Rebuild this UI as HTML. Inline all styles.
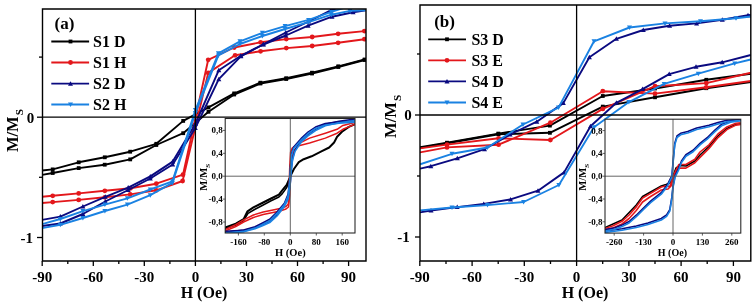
<!DOCTYPE html><html><head><meta charset="utf-8"><style>html,body{margin:0;padding:0;background:#fff;width:756px;height:306px;overflow:hidden}svg{display:block;will-change:transform;filter:blur(0.3px)}</style></head><body><svg width="756" height="306" viewBox="0 0 756 306"><defs><clipPath id="clipA"><rect x="42" y="9" width="324" height="252"/></clipPath><clipPath id="clipB"><rect x="420" y="5" width="331" height="256"/></clipPath><clipPath id="clipIA"><rect x="225.2" y="118.5" width="129.8" height="114.5"/></clipPath><clipPath id="clipIB"><rect x="605" y="119.2" width="135.8" height="114"/></clipPath></defs><rect width="756" height="306" fill="#fff"/><g clip-path="url(#clipA)"><polyline points="42.0,170.5 52.7,169.4 78.7,162.3 104.8,157.3 130.2,151.7 156.3,143.8 183.2,120.9 208.5,107.4 234.2,93.4 260.4,82.7 286.2,78.2 312.0,72.7 338.3,66.3 364.6,59.5 366.0,59.3" fill="none" stroke="#000000" stroke-width="1.9" stroke-linejoin="round"/><rect x="50.8" y="167.5" width="3.8" height="3.8" fill="#000000"/><rect x="76.8" y="160.4" width="3.8" height="3.8" fill="#000000"/><rect x="102.9" y="155.4" width="3.8" height="3.8" fill="#000000"/><rect x="128.3" y="149.8" width="3.8" height="3.8" fill="#000000"/><rect x="154.4" y="141.9" width="3.8" height="3.8" fill="#000000"/><rect x="181.3" y="119.0" width="3.8" height="3.8" fill="#000000"/><rect x="206.6" y="105.5" width="3.8" height="3.8" fill="#000000"/><rect x="232.3" y="91.5" width="3.8" height="3.8" fill="#000000"/><rect x="258.5" y="80.8" width="3.8" height="3.8" fill="#000000"/><rect x="284.3" y="76.3" width="3.8" height="3.8" fill="#000000"/><rect x="310.1" y="70.8" width="3.8" height="3.8" fill="#000000"/><rect x="336.4" y="64.4" width="3.8" height="3.8" fill="#000000"/><rect x="362.7" y="57.6" width="3.8" height="3.8" fill="#000000"/><polyline points="42.0,174.9 52.7,173.0 78.7,168.1 104.7,164.7 130.2,159.4 156.3,145.0 183.2,133.2 208.5,111.8 234.2,94.5 260.4,83.5 286.2,79.0 312.0,73.5 338.3,67.0 364.6,60.0 366.0,59.8" fill="none" stroke="#000000" stroke-width="1.9" stroke-linejoin="round"/><rect x="50.8" y="171.1" width="3.8" height="3.8" fill="#000000"/><rect x="76.8" y="166.2" width="3.8" height="3.8" fill="#000000"/><rect x="102.8" y="162.8" width="3.8" height="3.8" fill="#000000"/><rect x="128.3" y="157.5" width="3.8" height="3.8" fill="#000000"/><rect x="154.4" y="143.1" width="3.8" height="3.8" fill="#000000"/><rect x="181.3" y="131.3" width="3.8" height="3.8" fill="#000000"/><rect x="206.6" y="109.9" width="3.8" height="3.8" fill="#000000"/><rect x="232.3" y="92.6" width="3.8" height="3.8" fill="#000000"/><rect x="258.5" y="81.6" width="3.8" height="3.8" fill="#000000"/><rect x="284.3" y="77.1" width="3.8" height="3.8" fill="#000000"/><rect x="310.1" y="71.6" width="3.8" height="3.8" fill="#000000"/><rect x="336.4" y="65.1" width="3.8" height="3.8" fill="#000000"/><rect x="362.7" y="58.1" width="3.8" height="3.8" fill="#000000"/><polyline points="42.0,196.7 52.7,195.8 78.7,193.4 104.8,190.8 130.5,188.3 156.3,183.7 183.0,174.7 208.2,59.8 234.2,47.5 260.6,42.3 286.3,39.1 312.2,37.0 338.1,33.8 364.4,31.1 366.0,30.9" fill="none" stroke="#e3171b" stroke-width="1.9" stroke-linejoin="round"/><circle cx="52.7" cy="195.8" r="2.4" fill="#e3171b"/><circle cx="78.7" cy="193.4" r="2.4" fill="#e3171b"/><circle cx="104.8" cy="190.8" r="2.4" fill="#e3171b"/><circle cx="130.5" cy="188.3" r="2.4" fill="#e3171b"/><circle cx="156.3" cy="183.7" r="2.4" fill="#e3171b"/><circle cx="183.0" cy="174.7" r="2.4" fill="#e3171b"/><circle cx="208.2" cy="59.8" r="2.4" fill="#e3171b"/><circle cx="234.2" cy="47.5" r="2.4" fill="#e3171b"/><circle cx="260.6" cy="42.3" r="2.4" fill="#e3171b"/><circle cx="286.3" cy="39.1" r="2.4" fill="#e3171b"/><circle cx="312.2" cy="37.0" r="2.4" fill="#e3171b"/><circle cx="338.1" cy="33.8" r="2.4" fill="#e3171b"/><circle cx="364.4" cy="31.1" r="2.4" fill="#e3171b"/><polyline points="42.0,203.0 52.7,202.1 78.7,199.9 104.8,197.3 130.2,194.4 156.3,190.3 182.6,181.0 208.2,72.9 235.1,55.3 260.6,51.3 286.3,48.1 312.2,46.0 338.1,42.8 364.4,39.2 366.0,39.0" fill="none" stroke="#e3171b" stroke-width="1.9" stroke-linejoin="round"/><circle cx="52.7" cy="202.1" r="2.4" fill="#e3171b"/><circle cx="78.7" cy="199.9" r="2.4" fill="#e3171b"/><circle cx="104.8" cy="197.3" r="2.4" fill="#e3171b"/><circle cx="130.2" cy="194.4" r="2.4" fill="#e3171b"/><circle cx="156.3" cy="190.3" r="2.4" fill="#e3171b"/><circle cx="182.6" cy="181.0" r="2.4" fill="#e3171b"/><circle cx="208.2" cy="72.9" r="2.4" fill="#e3171b"/><circle cx="235.1" cy="55.3" r="2.4" fill="#e3171b"/><circle cx="260.6" cy="51.3" r="2.4" fill="#e3171b"/><circle cx="286.3" cy="48.1" r="2.4" fill="#e3171b"/><circle cx="312.2" cy="46.0" r="2.4" fill="#e3171b"/><circle cx="338.1" cy="42.8" r="2.4" fill="#e3171b"/><circle cx="364.4" cy="39.2" r="2.4" fill="#e3171b"/><polyline points="42.0,219.9 60.3,216.6 82.9,206.5 105.3,196.8 128.2,187.6 150.3,176.4 172.7,161.6 195.3,124.0 218.8,70.2 240.8,55.8 263.3,44.5 285.8,35.5 308.1,25.7 332.0,16.7 353.1,12.2 366.0,10.4" fill="none" stroke="#0a0a80" stroke-width="1.9" stroke-linejoin="round"/><polygon points="60.3,214.1 62.8,218.6 57.8,218.6" fill="#0a0a80"/><polygon points="82.9,204.0 85.4,208.5 80.4,208.5" fill="#0a0a80"/><polygon points="105.3,194.3 107.8,198.8 102.8,198.8" fill="#0a0a80"/><polygon points="128.2,185.1 130.7,189.6 125.7,189.6" fill="#0a0a80"/><polygon points="150.3,173.9 152.8,178.4 147.8,178.4" fill="#0a0a80"/><polygon points="172.7,159.1 175.2,163.6 170.2,163.6" fill="#0a0a80"/><polygon points="195.3,121.5 197.8,126.0 192.8,126.0" fill="#0a0a80"/><polygon points="218.8,67.7 221.3,72.2 216.3,72.2" fill="#0a0a80"/><polygon points="240.8,53.3 243.3,57.8 238.3,57.8" fill="#0a0a80"/><polygon points="263.3,42.0 265.8,46.5 260.8,46.5" fill="#0a0a80"/><polygon points="285.8,33.0 288.3,37.5 283.3,37.5" fill="#0a0a80"/><polygon points="308.1,23.2 310.6,27.7 305.6,27.7" fill="#0a0a80"/><polygon points="332.0,14.2 334.5,18.7 329.5,18.7" fill="#0a0a80"/><polygon points="353.1,9.7 355.6,14.2 350.6,14.2" fill="#0a0a80"/><polyline points="42.0,226.0 60.3,223.5 82.9,214.0 105.3,201.5 128.2,190.0 150.3,178.5 172.7,164.5 195.3,128.0 218.8,79.2 240.8,56.3 263.3,44.3 285.8,32.5 308.6,21.5 330.7,10.4 353.0,3.0" fill="none" stroke="#0a0a80" stroke-width="1.9" stroke-linejoin="round"/><polygon points="60.3,221.0 62.8,225.5 57.8,225.5" fill="#0a0a80"/><polygon points="82.9,211.5 85.4,216.0 80.4,216.0" fill="#0a0a80"/><polygon points="105.3,199.0 107.8,203.5 102.8,203.5" fill="#0a0a80"/><polygon points="128.2,187.5 130.7,192.0 125.7,192.0" fill="#0a0a80"/><polygon points="150.3,176.0 152.8,180.5 147.8,180.5" fill="#0a0a80"/><polygon points="172.7,162.0 175.2,166.5 170.2,166.5" fill="#0a0a80"/><polygon points="195.3,125.5 197.8,130.0 192.8,130.0" fill="#0a0a80"/><polygon points="218.8,76.7 221.3,81.2 216.3,81.2" fill="#0a0a80"/><polygon points="240.8,53.8 243.3,58.3 238.3,58.3" fill="#0a0a80"/><polygon points="263.3,41.8 265.8,46.3 260.8,46.3" fill="#0a0a80"/><polygon points="285.8,30.0 288.3,34.5 283.3,34.5" fill="#0a0a80"/><polygon points="308.6,19.0 311.1,23.5 306.1,23.5" fill="#0a0a80"/><polygon points="330.7,7.9 333.2,12.4 328.2,12.4" fill="#0a0a80"/><polyline points="42.0,224.2 60.3,219.0 82.9,211.1 104.9,204.6 127.4,198.3 150.3,189.5 172.4,181.3 195.4,110.0 218.4,53.3 240.0,41.3 262.4,32.8 285.1,26.1 308.6,19.9 331.4,11.9 353.0,5.0" fill="none" stroke="#1a82e2" stroke-width="1.9" stroke-linejoin="round"/><polygon points="60.3,221.5 62.8,217.0 57.8,217.0" fill="#1a82e2"/><polygon points="82.9,213.6 85.4,209.1 80.4,209.1" fill="#1a82e2"/><polygon points="104.9,207.1 107.4,202.6 102.4,202.6" fill="#1a82e2"/><polygon points="127.4,200.8 129.9,196.3 124.9,196.3" fill="#1a82e2"/><polygon points="150.3,192.0 152.8,187.5 147.8,187.5" fill="#1a82e2"/><polygon points="172.4,183.8 174.9,179.3 169.9,179.3" fill="#1a82e2"/><polygon points="195.4,112.5 197.9,108.0 192.9,108.0" fill="#1a82e2"/><polygon points="218.4,55.8 220.9,51.3 215.9,51.3" fill="#1a82e2"/><polygon points="240.0,43.8 242.5,39.3 237.5,39.3" fill="#1a82e2"/><polygon points="262.4,35.3 264.9,30.8 259.9,30.8" fill="#1a82e2"/><polygon points="285.1,28.6 287.6,24.1 282.6,24.1" fill="#1a82e2"/><polygon points="308.6,22.4 311.1,17.9 306.1,17.9" fill="#1a82e2"/><polygon points="331.4,14.4 333.9,9.9 328.9,9.9" fill="#1a82e2"/><polyline points="42.0,228.1 60.3,224.8 82.9,218.0 104.9,211.0 127.4,204.6 150.3,195.2 172.4,182.9 195.4,113.0 218.4,55.5 240.0,44.0 262.4,36.0 285.1,29.0 308.6,22.1 331.4,14.7 350.0,10.9 366.0,10.2" fill="none" stroke="#1a82e2" stroke-width="1.9" stroke-linejoin="round"/><polygon points="60.3,227.3 62.8,222.8 57.8,222.8" fill="#1a82e2"/><polygon points="82.9,220.5 85.4,216.0 80.4,216.0" fill="#1a82e2"/><polygon points="104.9,213.5 107.4,209.0 102.4,209.0" fill="#1a82e2"/><polygon points="127.4,207.1 129.9,202.6 124.9,202.6" fill="#1a82e2"/><polygon points="150.3,197.7 152.8,193.2 147.8,193.2" fill="#1a82e2"/><polygon points="172.4,185.4 174.9,180.9 169.9,180.9" fill="#1a82e2"/><polygon points="195.4,115.5 197.9,111.0 192.9,111.0" fill="#1a82e2"/><polygon points="218.4,58.0 220.9,53.5 215.9,53.5" fill="#1a82e2"/><polygon points="240.0,46.5 242.5,42.0 237.5,42.0" fill="#1a82e2"/><polygon points="262.4,38.5 264.9,34.0 259.9,34.0" fill="#1a82e2"/><polygon points="285.1,31.5 287.6,27.0 282.6,27.0" fill="#1a82e2"/><polygon points="308.6,24.6 311.1,20.1 306.1,20.1" fill="#1a82e2"/><polygon points="331.4,17.2 333.9,12.7 328.9,12.7" fill="#1a82e2"/><polygon points="350.0,13.4 352.5,8.9 347.5,8.9" fill="#1a82e2"/></g><line x1="42" y1="117.2" x2="366" y2="117.2" stroke="#000" stroke-width="1.3"/><line x1="195.4" y1="9" x2="195.4" y2="261" stroke="#000" stroke-width="1.3"/><path d="M42.5,9H366V261H42.5Z" fill="none" stroke="#000" stroke-width="1.4" stroke-linejoin="miter"/><line x1="42.2" y1="261" x2="42.2" y2="266" stroke="#000" stroke-width="1.3"/><line x1="67.8" y1="261" x2="67.8" y2="264" stroke="#000" stroke-width="1.3"/><line x1="93.3" y1="261" x2="93.3" y2="266" stroke="#000" stroke-width="1.3"/><line x1="118.8" y1="261" x2="118.8" y2="264" stroke="#000" stroke-width="1.3"/><line x1="144.3" y1="261" x2="144.3" y2="266" stroke="#000" stroke-width="1.3"/><line x1="169.9" y1="261" x2="169.9" y2="264" stroke="#000" stroke-width="1.3"/><line x1="195.4" y1="261" x2="195.4" y2="266" stroke="#000" stroke-width="1.3"/><line x1="220.9" y1="261" x2="220.9" y2="264" stroke="#000" stroke-width="1.3"/><line x1="246.5" y1="261" x2="246.5" y2="266" stroke="#000" stroke-width="1.3"/><line x1="272.0" y1="261" x2="272.0" y2="264" stroke="#000" stroke-width="1.3"/><line x1="297.5" y1="261" x2="297.5" y2="266" stroke="#000" stroke-width="1.3"/><line x1="323.1" y1="261" x2="323.1" y2="264" stroke="#000" stroke-width="1.3"/><line x1="348.6" y1="261" x2="348.6" y2="266" stroke="#000" stroke-width="1.3"/><line x1="39" y1="57.1" x2="42" y2="57.1" stroke="#000" stroke-width="1.3"/><line x1="37" y1="117.2" x2="42" y2="117.2" stroke="#000" stroke-width="1.3"/><line x1="39" y1="177.3" x2="42" y2="177.3" stroke="#000" stroke-width="1.3"/><line x1="37" y1="237.5" x2="42" y2="237.5" stroke="#000" stroke-width="1.3"/><g clip-path="url(#clipB)"><polyline points="420.0,147.3 447.0,142.7 498.3,133.6 549.9,125.6 602.8,96.0 655.0,88.5 706.3,79.8 750.8,73.8" fill="none" stroke="#000000" stroke-width="1.9" stroke-linejoin="round"/><rect x="445.1" y="140.8" width="3.8" height="3.8" fill="#000000"/><rect x="496.4" y="131.7" width="3.8" height="3.8" fill="#000000"/><rect x="548.0" y="123.7" width="3.8" height="3.8" fill="#000000"/><rect x="600.9" y="94.1" width="3.8" height="3.8" fill="#000000"/><rect x="653.1" y="86.6" width="3.8" height="3.8" fill="#000000"/><rect x="704.4" y="77.9" width="3.8" height="3.8" fill="#000000"/><polyline points="420.0,147.9 447.0,143.3 498.5,134.2 549.9,132.8 602.8,106.6 655.0,97.3 706.3,88.2 750.8,82.0" fill="none" stroke="#000000" stroke-width="1.9" stroke-linejoin="round"/><rect x="445.1" y="141.4" width="3.8" height="3.8" fill="#000000"/><rect x="496.6" y="132.3" width="3.8" height="3.8" fill="#000000"/><rect x="548.0" y="130.9" width="3.8" height="3.8" fill="#000000"/><rect x="600.9" y="104.7" width="3.8" height="3.8" fill="#000000"/><rect x="653.1" y="95.4" width="3.8" height="3.8" fill="#000000"/><rect x="704.4" y="86.3" width="3.8" height="3.8" fill="#000000"/><polyline points="420.0,152.4 447.0,147.4 498.6,144.7 550.4,122.7 602.8,91.2 655.0,93.6 706.3,87.3 750.8,81.0" fill="none" stroke="#e3171b" stroke-width="1.9" stroke-linejoin="round"/><circle cx="447.0" cy="147.4" r="2.4" fill="#e3171b"/><circle cx="498.6" cy="144.7" r="2.4" fill="#e3171b"/><circle cx="550.4" cy="122.7" r="2.4" fill="#e3171b"/><circle cx="602.8" cy="91.2" r="2.4" fill="#e3171b"/><circle cx="655.0" cy="93.6" r="2.4" fill="#e3171b"/><circle cx="706.3" cy="87.3" r="2.4" fill="#e3171b"/><polyline points="420.0,148.4 447.0,144.6 498.6,138.3 550.4,140.0 602.8,108.9 655.0,86.2 706.3,83.1 750.8,72.8" fill="none" stroke="#e3171b" stroke-width="1.9" stroke-linejoin="round"/><circle cx="447.0" cy="144.6" r="2.4" fill="#e3171b"/><circle cx="498.6" cy="138.3" r="2.4" fill="#e3171b"/><circle cx="550.4" cy="140.0" r="2.4" fill="#e3171b"/><circle cx="602.8" cy="108.9" r="2.4" fill="#e3171b"/><circle cx="655.0" cy="86.2" r="2.4" fill="#e3171b"/><circle cx="706.3" cy="83.1" r="2.4" fill="#e3171b"/><polyline points="420.0,168.6 430.8,166.2 457.3,158.3 484.5,149.2 510.1,134.5 536.8,121.7 563.3,103.1 589.4,57.2 616.4,38.8 643.3,30.0 669.6,25.8 696.6,23.4 722.3,19.7 748.0,15.3 750.8,15.0" fill="none" stroke="#0a0a80" stroke-width="1.9" stroke-linejoin="round"/><polygon points="430.8,163.7 433.3,168.2 428.3,168.2" fill="#0a0a80"/><polygon points="457.3,155.8 459.8,160.3 454.8,160.3" fill="#0a0a80"/><polygon points="484.5,146.7 487.0,151.2 482.0,151.2" fill="#0a0a80"/><polygon points="510.1,132.0 512.6,136.5 507.6,136.5" fill="#0a0a80"/><polygon points="536.8,119.2 539.3,123.7 534.3,123.7" fill="#0a0a80"/><polygon points="563.3,100.6 565.8,105.1 560.8,105.1" fill="#0a0a80"/><polygon points="589.4,54.7 591.9,59.2 586.9,59.2" fill="#0a0a80"/><polygon points="616.4,36.3 618.9,40.8 613.9,40.8" fill="#0a0a80"/><polygon points="643.3,27.5 645.8,32.0 640.8,32.0" fill="#0a0a80"/><polygon points="669.6,23.3 672.1,27.8 667.1,27.8" fill="#0a0a80"/><polygon points="696.6,20.9 699.1,25.4 694.1,25.4" fill="#0a0a80"/><polygon points="722.3,17.2 724.8,21.7 719.8,21.7" fill="#0a0a80"/><polygon points="748.0,12.8 750.5,17.3 745.5,17.3" fill="#0a0a80"/><polyline points="420.0,212.4 431.0,210.5 457.2,207.1 483.7,203.9 510.5,199.4 538.0,190.7 564.1,172.4 590.5,126.3 616.4,102.8 642.6,89.1 669.2,74.1 696.0,66.8 722.2,62.3 750.8,55.0" fill="none" stroke="#0a0a80" stroke-width="1.9" stroke-linejoin="round"/><polygon points="431.0,208.0 433.5,212.5 428.5,212.5" fill="#0a0a80"/><polygon points="457.2,204.6 459.7,209.1 454.7,209.1" fill="#0a0a80"/><polygon points="483.7,201.4 486.2,205.9 481.2,205.9" fill="#0a0a80"/><polygon points="510.5,196.9 513.0,201.4 508.0,201.4" fill="#0a0a80"/><polygon points="538.0,188.2 540.5,192.7 535.5,192.7" fill="#0a0a80"/><polygon points="564.1,169.9 566.6,174.4 561.6,174.4" fill="#0a0a80"/><polygon points="590.5,123.8 593.0,128.3 588.0,128.3" fill="#0a0a80"/><polygon points="616.4,100.3 618.9,104.8 613.9,104.8" fill="#0a0a80"/><polygon points="642.6,86.6 645.1,91.1 640.1,91.1" fill="#0a0a80"/><polygon points="669.2,71.6 671.7,76.1 666.7,76.1" fill="#0a0a80"/><polygon points="696.0,64.3 698.5,68.8 693.5,68.8" fill="#0a0a80"/><polygon points="722.2,59.8 724.7,64.3 719.7,64.3" fill="#0a0a80"/><polyline points="420.0,164.3 452.0,153.8 487.5,147.5 523.0,124.5 558.5,107.6 594.0,41.3 629.5,27.5 665.0,23.4 700.5,21.2 736.0,18.3 750.8,16.5" fill="none" stroke="#1a82e2" stroke-width="1.9" stroke-linejoin="round"/><polygon points="452.0,156.3 454.5,151.8 449.5,151.8" fill="#1a82e2"/><polygon points="487.5,150.0 490.0,145.5 485.0,145.5" fill="#1a82e2"/><polygon points="523.0,127.0 525.5,122.5 520.5,122.5" fill="#1a82e2"/><polygon points="558.5,110.1 561.0,105.6 556.0,105.6" fill="#1a82e2"/><polygon points="594.0,43.8 596.5,39.3 591.5,39.3" fill="#1a82e2"/><polygon points="629.5,30.0 632.0,25.5 627.0,25.5" fill="#1a82e2"/><polygon points="665.0,25.9 667.5,21.4 662.5,21.4" fill="#1a82e2"/><polygon points="700.5,23.7 703.0,19.2 698.0,19.2" fill="#1a82e2"/><polygon points="736.0,20.8 738.5,16.3 733.5,16.3" fill="#1a82e2"/><polyline points="420.0,210.4 452.0,207.5 487.5,205.1 523.6,202.0 558.9,185.0 594.0,127.3 628.9,102.1 664.2,83.9 698.3,73.7 734.7,63.4 750.8,59.5" fill="none" stroke="#1a82e2" stroke-width="1.9" stroke-linejoin="round"/><polygon points="452.0,210.0 454.5,205.5 449.5,205.5" fill="#1a82e2"/><polygon points="487.5,207.6 490.0,203.1 485.0,203.1" fill="#1a82e2"/><polygon points="523.6,204.5 526.1,200.0 521.1,200.0" fill="#1a82e2"/><polygon points="558.9,187.5 561.4,183.0 556.4,183.0" fill="#1a82e2"/><polygon points="594.0,129.8 596.5,125.3 591.5,125.3" fill="#1a82e2"/><polygon points="628.9,104.6 631.4,100.1 626.4,100.1" fill="#1a82e2"/><polygon points="664.2,86.4 666.7,81.9 661.7,81.9" fill="#1a82e2"/><polygon points="698.3,76.2 700.8,71.7 695.8,71.7" fill="#1a82e2"/><polygon points="734.7,65.9 737.2,61.4 732.2,61.4" fill="#1a82e2"/></g><line x1="420" y1="115" x2="750.8" y2="115" stroke="#000" stroke-width="1.3"/><line x1="576.6" y1="5" x2="576.6" y2="261" stroke="#000" stroke-width="1.3"/><path d="M420,5H750.8V261H420Z" fill="none" stroke="#000" stroke-width="1.4" stroke-linejoin="miter"/><line x1="419.8" y1="261" x2="419.8" y2="266" stroke="#000" stroke-width="1.3"/><line x1="446.0" y1="261" x2="446.0" y2="264" stroke="#000" stroke-width="1.3"/><line x1="472.1" y1="261" x2="472.1" y2="266" stroke="#000" stroke-width="1.3"/><line x1="498.2" y1="261" x2="498.2" y2="264" stroke="#000" stroke-width="1.3"/><line x1="524.3" y1="261" x2="524.3" y2="266" stroke="#000" stroke-width="1.3"/><line x1="550.5" y1="261" x2="550.5" y2="264" stroke="#000" stroke-width="1.3"/><line x1="576.6" y1="261" x2="576.6" y2="266" stroke="#000" stroke-width="1.3"/><line x1="602.7" y1="261" x2="602.7" y2="264" stroke="#000" stroke-width="1.3"/><line x1="628.9" y1="261" x2="628.9" y2="266" stroke="#000" stroke-width="1.3"/><line x1="655.0" y1="261" x2="655.0" y2="264" stroke="#000" stroke-width="1.3"/><line x1="681.1" y1="261" x2="681.1" y2="266" stroke="#000" stroke-width="1.3"/><line x1="707.2" y1="261" x2="707.2" y2="264" stroke="#000" stroke-width="1.3"/><line x1="733.4" y1="261" x2="733.4" y2="266" stroke="#000" stroke-width="1.3"/><line x1="417" y1="54.0" x2="420" y2="54.0" stroke="#000" stroke-width="1.3"/><line x1="415" y1="115.0" x2="420" y2="115.0" stroke="#000" stroke-width="1.3"/><line x1="417" y1="176.0" x2="420" y2="176.0" stroke="#000" stroke-width="1.3"/><line x1="415" y1="237.0" x2="420" y2="237.0" stroke="#000" stroke-width="1.3"/><rect x="225.2" y="118.5" width="129.8" height="114.5" fill="#fff"/><g clip-path="url(#clipIA)"><polyline points="225.0,227.5 235.8,223.6 243.6,219.1 247.5,211.3 253.4,207.4 263.2,202.5 271.1,198.5 278.9,194.6 282.8,189.7 286.7,184.8 289.7,177.9 290.4,176.0 293.9,169.0 298.8,162.2 303.7,159.2 311.6,156.3 321.4,151.4 329.2,147.5 334.1,142.5 337.1,136.7 342.0,131.8 348.8,126.9 356.0,123.8" fill="none" stroke="#000000" stroke-width="2.0" stroke-linejoin="round"/><polyline points="225.0,228.8 235.8,225.0 243.6,220.6 248.0,213.4 255.0,209.2 263.2,205.0 271.1,200.8 278.9,197.0 282.3,193.6 286.7,187.5 289.7,178.5 290.6,176.0" fill="none" stroke="#000000" stroke-width="1.6" stroke-linejoin="round"/><polyline points="225.0,229.5 235.8,224.6 243.6,219.8 253.4,215.0 263.2,212.0 273.0,210.0 280.0,208.5 286.0,206.5 288.3,204.0 289.0,190.0 289.8,165.0 290.6,152.0 292.0,148.4 297.8,144.0 309.6,138.1 325.3,133.2 337.1,129.3 342.9,125.4 354.7,122.5 356.0,122.3" fill="none" stroke="#e3171b" stroke-width="1.5" stroke-linejoin="round"/><polyline points="225.0,231.0 235.8,226.5 243.6,222.0 253.4,217.5 263.2,214.5 273.0,212.5 280.0,211.0 286.0,209.0 288.5,207.0 289.8,195.0 290.8,170.0 291.8,158.0 294.0,151.0 297.8,146.0 309.6,143.0 325.3,138.1 337.1,133.2 342.9,129.3 354.7,124.4 356.0,124.2" fill="none" stroke="#e3171b" stroke-width="1.5" stroke-linejoin="round"/><polyline points="225.0,232.2 243.6,230.0 255.0,226.7 262.5,223.0 269.7,219.3 277.0,212.0 284.4,203.2 288.1,194.4 289.6,180.7 290.5,166.7 291.6,153.7 293.5,147.2 301.8,137.9 308.0,132.1 315.5,127.1 325.3,123.6 339.0,121.8 356.0,120.7" fill="none" stroke="#0a0a80" stroke-width="1.6" stroke-linejoin="round"/><polyline points="225.0,231.4 243.6,230.4 255.0,227.4 262.5,224.4 269.7,221.2 277.0,214.6 284.4,205.1 288.1,197.7 290.0,185.9 291.2,169.9 292.5,158.9 295.0,149.9 301.8,139.9 308.0,134.4 315.5,129.2 325.3,124.3 339.0,121.3 356.0,118.9" fill="none" stroke="#0a0a80" stroke-width="1.6" stroke-linejoin="round"/><polyline points="225.0,232.8 243.6,231.8 255.0,228.8 262.5,225.8 269.7,222.6 277.0,216.0 284.4,206.5 288.1,199.1 290.0,187.3 291.2,171.3 292.5,160.3 295.0,151.3 301.8,141.3 308.0,135.8 315.5,130.6 325.3,125.7 339.0,122.7 356.0,120.3" fill="none" stroke="#1a82e2" stroke-width="1.6" stroke-linejoin="round"/><polyline points="225.0,233.6 243.6,231.4 255.0,228.1 262.5,224.4 269.7,220.7 277.0,213.4 284.4,204.6 288.1,195.8 289.6,182.1 290.5,168.1 291.6,155.1 293.5,148.6 301.8,139.3 308.0,133.5 315.5,128.5 325.3,125.0 339.0,123.2 356.0,122.1" fill="none" stroke="#1a82e2" stroke-width="1.6" stroke-linejoin="round"/></g><line x1="225.2" y1="176.2" x2="355" y2="176.2" stroke="#555" stroke-width="0.9"/><line x1="290.3" y1="118.5" x2="290.3" y2="233" stroke="#555" stroke-width="0.9"/><rect x="225.2" y="118.5" width="129.8" height="114.5" fill="none" stroke="#222" stroke-width="1.05"/><line x1="238.4" y1="233" x2="238.4" y2="235.5" stroke="#333" stroke-width="0.8"/><text x="238.4" y="245.2" font-family="Liberation Serif" font-weight="bold" font-size="9" text-anchor="middle">-160</text><line x1="264.3" y1="233" x2="264.3" y2="235.5" stroke="#333" stroke-width="0.8"/><text x="264.3" y="245.2" font-family="Liberation Serif" font-weight="bold" font-size="9" text-anchor="middle">-80</text><line x1="290.3" y1="233" x2="290.3" y2="235.5" stroke="#333" stroke-width="0.8"/><text x="290.3" y="245.2" font-family="Liberation Serif" font-weight="bold" font-size="9" text-anchor="middle">0</text><line x1="316.3" y1="233" x2="316.3" y2="235.5" stroke="#333" stroke-width="0.8"/><text x="316.3" y="245.2" font-family="Liberation Serif" font-weight="bold" font-size="9" text-anchor="middle">80</text><line x1="342.2" y1="233" x2="342.2" y2="235.5" stroke="#333" stroke-width="0.8"/><text x="342.2" y="245.2" font-family="Liberation Serif" font-weight="bold" font-size="9" text-anchor="middle">160</text><line x1="222.7" y1="130.4" x2="225.2" y2="130.4" stroke="#333" stroke-width="0.8"/><text x="222.7" y="133.4" font-family="Liberation Serif" font-weight="bold" font-size="9" text-anchor="end">0,8</text><line x1="222.7" y1="153.3" x2="225.2" y2="153.3" stroke="#333" stroke-width="0.8"/><text x="222.7" y="156.3" font-family="Liberation Serif" font-weight="bold" font-size="9" text-anchor="end">0,4</text><line x1="222.7" y1="176.2" x2="225.2" y2="176.2" stroke="#333" stroke-width="0.8"/><text x="222.7" y="179.2" font-family="Liberation Serif" font-weight="bold" font-size="9" text-anchor="end">0,0</text><line x1="222.7" y1="199.1" x2="225.2" y2="199.1" stroke="#333" stroke-width="0.8"/><text x="222.7" y="202.1" font-family="Liberation Serif" font-weight="bold" font-size="9" text-anchor="end">-0,4</text><line x1="222.7" y1="222.0" x2="225.2" y2="222.0" stroke="#333" stroke-width="0.8"/><text x="222.7" y="225.0" font-family="Liberation Serif" font-weight="bold" font-size="9" text-anchor="end">-0,8</text><text x="290.4" y="255.5" font-family="Liberation Serif" font-weight="bold" font-size="10.5" text-anchor="middle">H (Oe)</text><text transform="translate(207.4,177.3) rotate(-90)" font-family="Liberation Serif" font-weight="bold" font-size="10.6" text-anchor="middle">M/M<tspan font-size="7" dy="2.5">S</tspan></text><rect x="605" y="119.2" width="135.8" height="113.9" fill="#fff"/><g clip-path="url(#clipIB)"><polyline points="605.0,227.5 622.0,220.0 636.3,205.0 642.6,196.5 650.6,192.0 661.3,186.0 666.0,184.5 670.0,183.0 673.0,176.0 676.0,168.0 680.0,165.5 686.0,166.0 694.9,161.0 700.0,155.0 709.0,146.5 718.0,136.0 726.9,128.5 735.9,124.5 741.0,123.8" fill="none" stroke="#000000" stroke-width="1.6" stroke-linejoin="round"/><polyline points="605.0,230.0 613.0,228.0 622.0,224.0 629.1,218.5 636.3,210.5 642.6,202.0 650.6,196.5 661.3,190.0 668.0,189.0 671.0,186.0 674.0,175.0 678.0,168.0 685.9,168.1 694.9,162.7 700.0,157.4 709.0,148.4 718.0,137.6 726.9,129.6 735.9,125.1 741.0,124.5" fill="none" stroke="#e3171b" stroke-width="1.6" stroke-linejoin="round"/><polyline points="605.0,228.5 613.0,225.8 622.0,221.3 629.1,215.0 636.3,206.9 642.6,198.0 650.6,193.4 661.3,187.0 665.5,186.0 669.8,186.5 671.9,180.6 675.1,172.1 678.8,164.5 685.9,164.5 694.9,159.2 700.0,152.0 709.0,144.8 718.0,134.0 726.9,126.9 735.9,123.3 741.0,122.7" fill="none" stroke="#e3171b" stroke-width="1.6" stroke-linejoin="round"/><polyline points="605.0,229.6 614.8,227.8 622.0,225.1 629.1,221.5 636.3,215.2 643.5,208.0 650.6,201.2 661.3,192.7 667.7,184.2 671.9,175.7 673.4,157.6 674.8,143.2 677.0,136.0 680.6,133.3 687.7,131.5 696.7,128.0 709.0,125.3 718.0,122.6 726.9,120.3 741.0,119.0" fill="none" stroke="#0a0a80" stroke-width="1.6" stroke-linejoin="round"/><polyline points="605.0,231.0 622.0,228.8 636.3,226.0 648.0,223.0 661.3,218.5 666.6,214.9 669.8,209.6 671.9,196.9 673.0,186.2 675.1,175.6 678.3,169.2 681.5,161.0 685.9,154.8 693.1,150.3 700.3,143.1 707.2,137.7 714.4,130.6 721.5,124.3 730.5,120.7 741.0,119.1" fill="none" stroke="#0a0a80" stroke-width="1.6" stroke-linejoin="round"/><polyline points="605.0,232.5 622.0,230.3 636.3,227.5 648.0,224.5 661.3,220.0 666.6,216.4 669.8,211.1 671.9,198.4 673.0,187.7 675.1,177.1 678.3,170.7 681.5,162.5 685.9,156.3 693.1,151.8 700.3,144.6 707.2,139.2 714.4,132.1 721.5,125.8 730.5,122.2 741.0,120.6" fill="none" stroke="#1a82e2" stroke-width="1.6" stroke-linejoin="round"/><polyline points="605.0,231.1 614.8,229.3 622.0,226.6 629.1,223.0 636.3,216.7 643.5,209.5 650.6,202.7 661.3,194.2 667.7,185.7 671.9,177.2 673.4,159.1 674.8,144.7 677.0,137.5 680.6,134.8 687.7,133.0 696.7,129.5 709.0,126.8 718.0,124.1 726.9,121.8 741.0,120.5" fill="none" stroke="#1a82e2" stroke-width="1.6" stroke-linejoin="round"/></g><line x1="605" y1="176.2" x2="740.8" y2="176.2" stroke="#555" stroke-width="0.9"/><line x1="673" y1="119.2" x2="673" y2="233.1" stroke="#555" stroke-width="0.9"/><rect x="605" y="119.2" width="135.8" height="113.9" fill="none" stroke="#222" stroke-width="1.05"/><line x1="614.2" y1="233.1" x2="614.2" y2="235.6" stroke="#333" stroke-width="0.8"/><text x="614.2" y="245.3" font-family="Liberation Serif" font-weight="bold" font-size="9" text-anchor="middle">-260</text><line x1="643.6" y1="233.1" x2="643.6" y2="235.6" stroke="#333" stroke-width="0.8"/><text x="643.6" y="245.3" font-family="Liberation Serif" font-weight="bold" font-size="9" text-anchor="middle">-130</text><line x1="673.0" y1="233.1" x2="673.0" y2="235.6" stroke="#333" stroke-width="0.8"/><text x="673.0" y="245.3" font-family="Liberation Serif" font-weight="bold" font-size="9" text-anchor="middle">0</text><line x1="702.4" y1="233.1" x2="702.4" y2="235.6" stroke="#333" stroke-width="0.8"/><text x="702.4" y="245.3" font-family="Liberation Serif" font-weight="bold" font-size="9" text-anchor="middle">130</text><line x1="731.8" y1="233.1" x2="731.8" y2="235.6" stroke="#333" stroke-width="0.8"/><text x="731.8" y="245.3" font-family="Liberation Serif" font-weight="bold" font-size="9" text-anchor="middle">260</text><line x1="602.5" y1="130.6" x2="605" y2="130.6" stroke="#333" stroke-width="0.8"/><text x="602.5" y="133.6" font-family="Liberation Serif" font-weight="bold" font-size="9" text-anchor="end">0,8</text><line x1="602.5" y1="153.4" x2="605" y2="153.4" stroke="#333" stroke-width="0.8"/><text x="602.5" y="156.4" font-family="Liberation Serif" font-weight="bold" font-size="9" text-anchor="end">0,4</text><line x1="602.5" y1="176.2" x2="605" y2="176.2" stroke="#333" stroke-width="0.8"/><text x="602.5" y="179.2" font-family="Liberation Serif" font-weight="bold" font-size="9" text-anchor="end">0,0</text><line x1="602.5" y1="199.0" x2="605" y2="199.0" stroke="#333" stroke-width="0.8"/><text x="602.5" y="202.0" font-family="Liberation Serif" font-weight="bold" font-size="9" text-anchor="end">-0,4</text><line x1="602.5" y1="221.8" x2="605" y2="221.8" stroke="#333" stroke-width="0.8"/><text x="602.5" y="224.8" font-family="Liberation Serif" font-weight="bold" font-size="9" text-anchor="end">-0,8</text><text x="672.4" y="255.8" font-family="Liberation Serif" font-weight="bold" font-size="10" text-anchor="middle">H (Oe)</text><text transform="translate(586.2,177.3) rotate(-90)" font-family="Liberation Serif" font-weight="bold" font-size="10.6" text-anchor="middle">M/M<tspan font-size="7" dy="2.5">S</tspan></text><line x1="51.3" y1="41.5" x2="89.1" y2="41.5" stroke="#000000" stroke-width="1.8"/><rect x="68.6" y="39.6" width="3.8" height="3.8" fill="#000000"/><text x="93" y="46.9" font-family="Liberation Serif" font-weight="bold" font-size="16">S1 D</text><line x1="51.3" y1="62.5" x2="89.1" y2="62.5" stroke="#e3171b" stroke-width="1.8"/><circle cx="70.5" cy="62.5" r="2.4" fill="#e3171b"/><text x="93" y="67.9" font-family="Liberation Serif" font-weight="bold" font-size="16">S1 H</text><line x1="51.3" y1="83.7" x2="89.1" y2="83.7" stroke="#0a0a80" stroke-width="1.8"/><polygon points="70.5,81.2 73.0,85.7 68.0,85.7" fill="#0a0a80"/><text x="93" y="89.1" font-family="Liberation Serif" font-weight="bold" font-size="16">S2 D</text><line x1="51.3" y1="104.5" x2="89.1" y2="104.5" stroke="#1a82e2" stroke-width="1.8"/><polygon points="70.5,107.0 73.0,102.5 68.0,102.5" fill="#1a82e2"/><text x="93" y="109.9" font-family="Liberation Serif" font-weight="bold" font-size="16">S2 H</text><line x1="428.2" y1="39.3" x2="466" y2="39.3" stroke="#000000" stroke-width="1.8"/><rect x="445.1" y="37.4" width="3.8" height="3.8" fill="#000000"/><text x="471.4" y="44.7" font-family="Liberation Serif" font-weight="bold" font-size="16">S3 D</text><line x1="428.2" y1="60.3" x2="466" y2="60.3" stroke="#e3171b" stroke-width="1.8"/><circle cx="447.0" cy="60.3" r="2.4" fill="#e3171b"/><text x="471.4" y="65.7" font-family="Liberation Serif" font-weight="bold" font-size="16">S3 E</text><line x1="428.2" y1="81.4" x2="466" y2="81.4" stroke="#0a0a80" stroke-width="1.8"/><polygon points="447.0,78.9 449.5,83.4 444.5,83.4" fill="#0a0a80"/><text x="471.4" y="86.8" font-family="Liberation Serif" font-weight="bold" font-size="16">S4 D</text><line x1="428.2" y1="102.5" x2="466" y2="102.5" stroke="#1a82e2" stroke-width="1.8"/><polygon points="447.0,105.0 449.5,100.5 444.5,100.5" fill="#1a82e2"/><text x="471.4" y="107.9" font-family="Liberation Serif" font-weight="bold" font-size="16">S4 E</text><text x="54.6" y="29" font-family="Liberation Serif" font-weight="bold" font-size="17">(a)</text><text x="434.2" y="26.8" font-family="Liberation Serif" font-weight="bold" font-size="17">(b)</text><text x="42.2" y="282.4" font-family="Liberation Serif" font-weight="bold" font-size="15" text-anchor="middle">-90</text><text x="419.8" y="282.4" font-family="Liberation Serif" font-weight="bold" font-size="15" text-anchor="middle">-90</text><text x="93.3" y="282.4" font-family="Liberation Serif" font-weight="bold" font-size="15" text-anchor="middle">-60</text><text x="472.1" y="282.4" font-family="Liberation Serif" font-weight="bold" font-size="15" text-anchor="middle">-60</text><text x="144.3" y="282.4" font-family="Liberation Serif" font-weight="bold" font-size="15" text-anchor="middle">-30</text><text x="524.3" y="282.4" font-family="Liberation Serif" font-weight="bold" font-size="15" text-anchor="middle">-30</text><text x="195.4" y="282.4" font-family="Liberation Serif" font-weight="bold" font-size="15" text-anchor="middle">0</text><text x="576.6" y="282.4" font-family="Liberation Serif" font-weight="bold" font-size="15" text-anchor="middle">0</text><text x="246.5" y="282.4" font-family="Liberation Serif" font-weight="bold" font-size="15" text-anchor="middle">30</text><text x="628.9" y="282.4" font-family="Liberation Serif" font-weight="bold" font-size="15" text-anchor="middle">30</text><text x="297.5" y="282.4" font-family="Liberation Serif" font-weight="bold" font-size="15" text-anchor="middle">60</text><text x="681.1" y="282.4" font-family="Liberation Serif" font-weight="bold" font-size="15" text-anchor="middle">60</text><text x="348.6" y="282.4" font-family="Liberation Serif" font-weight="bold" font-size="15" text-anchor="middle">90</text><text x="733.4" y="282.4" font-family="Liberation Serif" font-weight="bold" font-size="15" text-anchor="middle">90</text><text x="34.2" y="122.6" font-family="Liberation Serif" font-weight="bold" font-size="15" text-anchor="end">0</text><text x="33" y="242.8" font-family="Liberation Serif" font-weight="bold" font-size="15" text-anchor="end">-1</text><text x="411.8" y="120" font-family="Liberation Serif" font-weight="bold" font-size="15" text-anchor="end">0</text><text x="409.8" y="242" font-family="Liberation Serif" font-weight="bold" font-size="15" text-anchor="end">-1</text><text x="204" y="297.5" font-family="Liberation Serif" font-weight="bold" font-size="16" text-anchor="middle">H (Oe)</text><text x="585" y="297.5" font-family="Liberation Serif" font-weight="bold" font-size="16" text-anchor="middle">H (Oe)</text><text transform="translate(18,152.1) rotate(-90)" font-family="Liberation Serif" font-weight="bold" font-size="16.5">M/M<tspan font-size="11.3" dx="1.2" dy="4.9">S</tspan></text><text transform="translate(395.6,137.9) rotate(-90)" font-family="Liberation Serif" font-weight="bold" font-size="16.5">M/M<tspan font-size="11.3" dx="1.2" dy="4.9">S</tspan></text></svg></body></html>
